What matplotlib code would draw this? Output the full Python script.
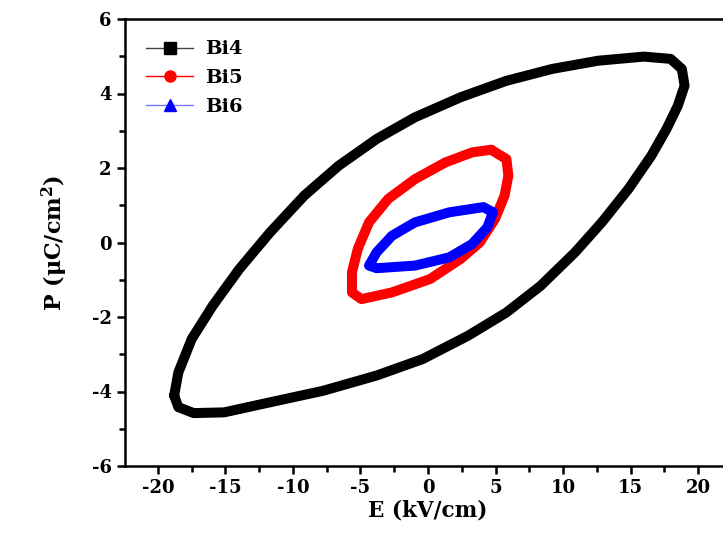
import matplotlib
matplotlib.use("Agg")
import matplotlib.pyplot as plt
from matplotlib.lines import Line2D
from matplotlib.ticker import MultipleLocator

plt.rcParams['font.family'] = ['DejaVu Serif']
plt.rcParams['font.weight'] = 'bold'
plt.rcParams['mathtext.fontset'] = 'dejavuserif'
plt.rcParams['axes.unicode_minus'] = False

# Bi4 loop (E in kV/cm, P in uC/cm^2)
bi4_E = [-18.8, -18.49, -17.5, -15.95, -13.97, -11.7, -9.16, -6.62, -3.8, -0.97,
         2.42, 5.8, 9.2, 12.6, 15.98, 17.96, 18.8, 19.0, 18.5, 17.67, 16.54,
         14.85, 12.87, 10.9, 8.35, 5.8, 2.98, -0.4, -3.8, -7.76, -11.7, -15.1,
         -17.35, -18.49, -18.8]
bi4_P = [-4.11, -3.49, -2.59, -1.70, -0.71, 0.27, 1.26, 2.06, 2.78, 3.36,
         3.90, 4.34, 4.66, 4.88, 4.99, 4.93, 4.66, 4.21, 3.67, 3.05, 2.33,
         1.44, 0.54, -0.26, -1.16, -1.88, -2.50, -3.13, -3.57, -3.98, -4.29,
         -4.56, -4.58, -4.42, -4.11]

# Bi5 loop
bi5_E = [4.67, 5.81, 5.95, 5.67, 4.96, 3.83, 2.42, 0.16, -2.67, -4.93, -5.63,
         -5.63, -5.2, -4.37, -2.95, -0.97, 1.29, 3.27, 4.67]
bi5_P = [2.49, 2.24, 1.79, 1.26, 0.63, 0.0, -0.44, -0.98, -1.34, -1.52, -1.34,
         -0.80, -0.17, 0.54, 1.17, 1.70, 2.15, 2.42, 2.49]

# Bi6 loop
bi6_E = [4.81, 4.11, 1.57, -0.97, -2.67, -3.8, -4.37, -3.8, -0.97, 1.57, 3.27,
         4.4, 4.81]
bi6_P = [0.81, 0.95, 0.81, 0.54, 0.18, -0.26, -0.62, -0.69, -0.62, -0.40,
         -0.04, 0.41, 0.81]

labels = ['Bi4', 'Bi5', 'Bi6']
colors = ['black', 'red', 'blue']
markers = ['s', 'o', '^']

fig = plt.figure(figsize=(7.23, 5.33), dpi=100)
ax = fig.add_axes([125/723, 67/533, 606/723, 447/533])

for E, P, c in zip([bi4_E, bi5_E, bi6_E], [bi4_P, bi5_P, bi6_P], colors):
    ax.plot(E, P, color=c, lw=7.2, solid_joinstyle='round',
            solid_capstyle='round')

ax.set_xlim(-22.44, 22.44)
ax.set_ylim(-6, 6)
ax.xaxis.set_major_locator(MultipleLocator(5))
ax.xaxis.set_minor_locator(MultipleLocator(2.5))
ax.yaxis.set_major_locator(MultipleLocator(2))
ax.yaxis.set_minor_locator(MultipleLocator(1))
ax.tick_params(which='major', direction='out', length=6, width=1.8,
               labelsize=13, top=False, right=False)
ax.tick_params(which='minor', direction='out', length=4, width=1.8,
               top=False, right=False)
for s in ax.spines.values():
    s.set_linewidth(1.8)

ax.set_xlabel('E (kV/cm)', fontsize=15.5, fontweight='bold', labelpad=2)
ax.set_ylabel(r'P ($\mathbf{\mu}$C/cm$^\mathbf{2}$)', fontsize=16,
              fontweight='bold', labelpad=16)

handle_line_colors = ['#444444', 'red', '#7777ff']
handles = [Line2D([0], [0], color=lc, lw=1.0, marker=m, markersize=8,
                  markerfacecolor=c, markeredgecolor=c)
           for lc, c, m in zip(handle_line_colors, colors, markers)]
ax.legend(handles, labels, loc='upper left', frameon=False, fontsize=14,
          handlelength=2.4, handletextpad=0.6, labelspacing=0.55,
          bbox_to_anchor=(0.0, 1.0), borderaxespad=0.7)

fig.savefig('out.png', dpi=100)
